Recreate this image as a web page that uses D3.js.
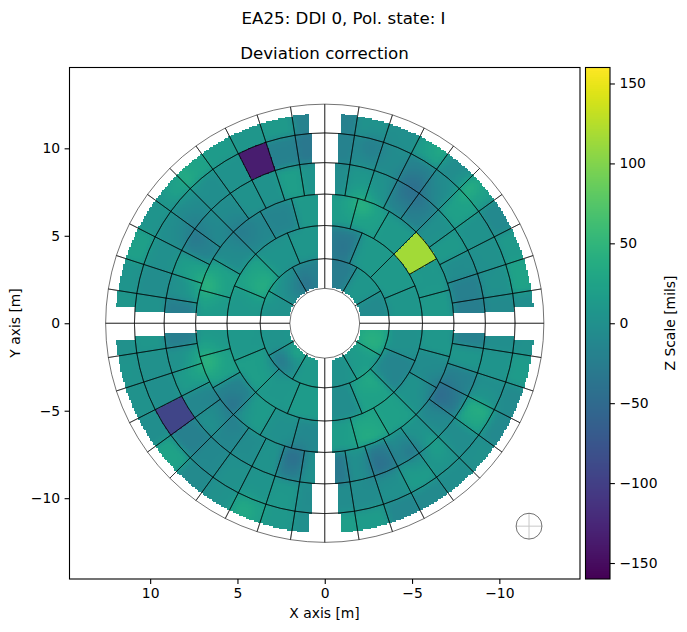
<!DOCTYPE html>
<html>
<head>
<meta charset="utf-8">
<style>
html, body { margin: 0; padding: 0; background: #fff; }
svg { display: block; font-family: "DejaVu Sans", sans-serif; fill: #000; }
</style>
<script src="https://cdn.jsdelivr.net/npm/d3@7"></script>
</head>
<body>
<div id="chart"></div>
<script>
// Dish geometry in metres
const ringEdges = [2.0, 3.7, 5.6, 7.4, 9.2, 10.9, 12.55];
const gapHalfWidths = [0.38, 0.38, 0.38, 0.56, 0.7, 0.92];
const apertureInner = 2.1;
const apertureOuter = 12.0;

// Panel corrections in mils, each ring clockwise from 12 o'clock
const ring1 = [-25, 8, -8,   25, 12, 3,   12, 0, 5,   2, -3, -20];
const ring2 = [-22, 12, 12, 8,   0, -15, 22, -5,   15, 10, 18, 10,   10, 22, 5, 8];
const ring3 = [15, 18, 12, 115, 10, 12,   10, -5, 5, 20, 25, 15,
               -10, 0, 15, -15, 20, 10,   12, 20, -5, -10, -15, 12];
const ring4 = [-5, 8, 3, -12, -18, 0, 12, -5, -22, -25,
               -20, 8, -20, -25, -8, 5, -5, -22, 0, -30,
               0, -22, 5, -5, -12, 0, -12, 12, 0, -25,
               -25, -2, 15, -15, -5, -5, 3, 3, 18, 5];
const ring5 = [-18, -5, -5, -15, -5, 20, 3, 0, 0, -8,
               -3, 5, -3, 22, -5, 5, 15, 0, -5, -5,
               -5, 10, 5, 0, -10, -22, -95, -2, 0, 8,
               3, -5, 0, -3, -8, -3, 3, -135, -20, -32];
const ring6 = [-20, 3, -2, 14, -8, 14, -10, 12, 24, -3,
               0, 14, -8, -10, 0, -3, -8, -12, 14, 18,
               -2, 10, 15, 0, -8, 24, -3, 3, 5, 0,
               8, 5, 20, 5, 3, 24, 14, 8, 12, -18];
const panelValues = [ring1, ring2, ring3, ring4, ring5, ring6];

// Local features crossing panel joints: x [m], y [m], width [m], amplitude [mils]
const localFeatures = [
  [6.95, 2.09, 0.7, 25], [7.42, 5.16, 0.7, -16], [4.85, 5.24, 0.7, -15],
  [3.5, 2.09, 0.7, 14], [8.47, 7.81, 0.7, 18], [1.32, 2.09, 0.5, -20],
  [-5.0, 7.62, 0.8, -28], [-2.13, 6.88, 0.6, 24], [-8.24, 7.81, 0.6, 22],
  [-0.99, 4.38, 0.6, -12], [-6.7, 9.9, 0.6, 16], [-2.7, 10.1, 0.6, -16],
  [-6.5, -4.0, 0.7, -22], [-3.0, -8.0, 0.7, -18], [-2.5, -6.5, 0.7, 10],
  [-2.6, -3.06, 0.6, 10], [-2.7, -0.96, 0.6, 16], [-5.1, -7.35, 0.6, -24],
  [-8.8, -4.87, 0.7, 14], [-6.14, -7.07, 0.6, 14],
  [6.95, -2.1, 0.7, 26], [5.32, -4.87, 0.7, -20], [1.8, -7.64, 0.6, -18],
  [2.56, -2.2, 0.5, -26], [1.6, -1.63, 0.4, 24], [4.66, -10.7, 0.7, 16]
];

const xTicks = [10, 5, 0, -5, -10];
const yTicks = [10, 5, 0, -5, -10];
const zTicks = [150, 100, 50, 0, -50, -100, -150];
const zDomain = [-160, 160];
const beam = { x: -11.7, y: -11.6, r: 0.74 };
const axisLimit = 14.62;

const suptitleText = "EA25: DDI 0, Pol. state: I";
const titleText = "Deviation correction";
const xLabelText = "X axis [m]";
const yLabelText = "Y axis [m]";
const zLabelText = "Z Scale [mils]";

const W = 687, H = 632;
const plot = { left: 69.5, right: 580, top: 67.5, bottom: 579 };
const bar = { left: 585.5, right: 610, top: 67.5, bottom: 579 };
const tickLen = 4.9, lineW = 1.1;

const x = d3.scaleLinear().domain([axisLimit, -axisLimit]).range([plot.left, plot.right]);
const y = d3.scaleLinear().domain([-axisLimit, axisLimit]).range([plot.bottom, plot.top]);
const z = d3.scaleLinear().domain(zDomain).range([bar.bottom, bar.top]);
const color = d3.scaleSequential(d3.interpolateViridis).domain(zDomain).clamp(true);

const svg = d3.select("#chart").append("svg").attr("width", W).attr("height", H);

// Value of the aperture map at a point, or null where the dish is blocked
function apertureValue(mx, my) {
  const r = Math.hypot(mx, my);
  if (r < apertureInner || r > apertureOuter) return null;
  const ring = d3.bisectRight(ringEdges, r) - 1;
  if (ring < 0 || ring >= panelValues.length) return null;
  const gap = gapHalfWidths[ring];
  if (Math.abs(mx) < gap || Math.abs(my) < gap) return null;
  const values = panelValues[ring];
  // clockwise angle from 12 o'clock as displayed (x axis runs right to left)
  let a = Math.atan2(-mx, my);
  if (a < 0) a += 2 * Math.PI;
  return values[Math.min(values.length - 1, Math.floor(a / (2 * Math.PI) * values.length))];
}

function featureValue(mx, my) {
  let v = 0;
  for (const [fx, fy, s, amp] of localFeatures) {
    const d2 = (mx - fx) ** 2 + (my - fy) ** 2;
    v += amp * Math.exp(-d2 / (2 * s * s));
  }
  return v;
}

// Raster of the aperture, sampled through the axis scales
const cellPx = 1.5;
const imgLeft = 69, imgTop = 67;
const n = 342;
const cellX = i => x.invert(imgLeft + (i + 0.5) * cellPx);
const cellY = j => y.invert(imgTop + (j + 0.5) * cellPx);
const grid = new Float64Array(n * n).fill(NaN);
for (let j = 0; j < n; j++) {
  for (let i = 0; i < n; i++) {
    const v = apertureValue(cellX(i), cellY(j));
    if (v !== null) grid[j * n + i] = v;
  }
}

// Soften the joints between ordinary panels; strongly deviating panels keep sharp edges
const smoothRadius = 5;
const outlierLimit = 70;
const canvas = document.createElement("canvas");
canvas.width = n; canvas.height = n;
const ctx = canvas.getContext("2d");
const img = ctx.createImageData(n, n);
for (let j = 0; j < n; j++) {
  for (let i = 0; i < n; i++) {
    const v0 = grid[j * n + i];
    if (Number.isNaN(v0)) continue;
    let v = v0;
    if (Math.abs(v0) < outlierLimit) {
      let sum = 0, weight = 0;
      for (let dj = -smoothRadius; dj <= smoothRadius; dj++) {
        for (let di = -smoothRadius; di <= smoothRadius; di++) {
          const jj = j + dj, ii = i + di;
          if (jj < 0 || ii < 0 || jj >= n || ii >= n) continue;
          const u = grid[jj * n + ii];
          if (Number.isNaN(u) || Math.abs(u) >= outlierLimit) continue;
          const w = Math.exp(-(di * di + dj * dj) / 14);
          sum += w * u; weight += w;
        }
      }
      v = sum / weight + featureValue(cellX(i), cellY(j));
    }
    const c = d3.rgb(color(v));
    const k = (j * n + i) * 4;
    img.data[k] = c.r; img.data[k + 1] = c.g; img.data[k + 2] = c.b; img.data[k + 3] = 255;
  }
}
ctx.putImageData(img, 0, 0);

svg.append("image")
  .attr("href", canvas.toDataURL())
  .attr("x", imgLeft).attr("y", imgTop)
  .attr("width", n * cellPx).attr("height", n * cellPx)
  .style("image-rendering", "pixelated");

// Panel outlines: every panel draws its own edge, so shared edges come out darker
const cx = x(0), cy = y(0);
const radius = m => Math.abs(x(m) - x(0));
const arc = d3.arc();
const outlines = svg.append("g")
  .attr("transform", `translate(${cx},${cy})`)
  .attr("fill", "none").attr("stroke", "#000").attr("stroke-width", 0.55);
panelValues.forEach((values, ring) => {
  const step = 2 * Math.PI / values.length;
  values.forEach((_, i) => {
    outlines.append("path").attr("d", arc({
      innerRadius: radius(ringEdges[ring]),
      outerRadius: radius(ringEdges[ring + 1]),
      startAngle: i * step,
      endAngle: (i + 1) * step
    }));
  });
});

// Beam symbol
const beamG = svg.append("g");
beamG.append("line")
  .attr("x1", x(beam.x + beam.r)).attr("x2", x(beam.x - beam.r))
  .attr("y1", y(beam.y)).attr("y2", y(beam.y))
  .attr("stroke", "#c8c8c8").attr("stroke-width", 1);
beamG.append("line")
  .attr("x1", x(beam.x)).attr("x2", x(beam.x))
  .attr("y1", y(beam.y + beam.r)).attr("y2", y(beam.y - beam.r))
  .attr("stroke", "#c8c8c8").attr("stroke-width", 1);
beamG.append("circle")
  .attr("cx", x(beam.x)).attr("cy", y(beam.y)).attr("r", radius(beam.r))
  .attr("fill", "none").attr("stroke", "#333").attr("stroke-width", 0.7);

// Colour bar: whole-pixel bands so no background shows between them
const barSteps = d3.range(Math.floor(bar.top), Math.ceil(bar.bottom), 1);
svg.append("g").attr("shape-rendering", "crispEdges").selectAll("rect").data(barSteps).join("rect")
  .attr("x", bar.left).attr("width", bar.right - bar.left)
  .attr("y", d => d).attr("height", 1)
  .attr("fill", d => color(z.invert(d + 0.5)));

// Frames and axes
function styleAxis(g) {
  g.select(".domain").remove();
  g.selectAll(".tick line").attr("stroke", "#000").attr("stroke-width", lineW);
  g.selectAll(".tick text").attr("fill", "#000").style("font-size", "13.9px")
    .style("font-family", '"DejaVu Sans", sans-serif');
}
svg.append("g").attr("transform", `translate(0,${plot.bottom})`)
  .call(d3.axisBottom(x).tickValues(xTicks).tickSize(tickLen).tickPadding(4.5))
  .call(styleAxis);
svg.append("g").attr("transform", `translate(${plot.left},0)`)
  .call(d3.axisLeft(y).tickValues(yTicks).tickSize(tickLen).tickPadding(4.5))
  .call(styleAxis);
svg.append("g").attr("transform", `translate(${bar.right},0)`)
  .call(d3.axisRight(z).tickValues(zTicks).tickSize(tickLen).tickPadding(4.5))
  .call(styleAxis);

[plot, bar].forEach(b => {
  svg.append("rect")
    .attr("x", b.left).attr("y", b.top)
    .attr("width", b.right - b.left).attr("height", b.bottom - b.top)
    .attr("fill", "none").attr("stroke", "#000").attr("stroke-width", lineW);
});

// Titles and axis labels
function label(text, px, py, size, rotate) {
  const t = svg.append("text").text(text)
    .attr("text-anchor", "middle").attr("dominant-baseline", "central")
    .style("font-size", size + "px");
  t.attr("transform", `translate(${px},${py})` + (rotate ? " rotate(-90)" : ""));
}
label(suptitleText, 343.5, 18, 16.67);
label(titleText, 324.5, 53, 16.67);
label(xLabelText, 324.5, 613, 13.9);
label(yLabelText, 15, 323, 13.9, true);
label(zLabelText, 670, 323, 13.9, true);
</script>
</body>
</html>
